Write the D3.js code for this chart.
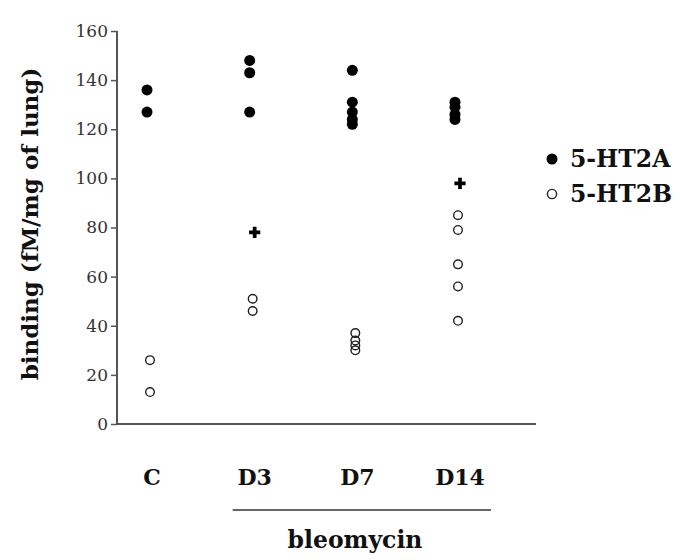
<!DOCTYPE html>
<html>
<head>
<meta charset="utf-8">
<script src="https://cdn.jsdelivr.net/npm/d3@7"></script>
<style>
  body { margin: 0; background: #fff; }
  text { font-family: "DejaVu Serif", "Liberation Serif", serif; }
</style>
</head>
<body>
<div id="chart"></div>
<script>
// Data
var groups = ["C", "D3", "D7", "D14"];
var ht2aVals = [
    [136, 127],
    [148, 143, 127],
    [144, 131, 127, 124, 122],
    [131, 129, 126, 124]
];
var ht2bVals = [
    [26, 13],
    [51, 46],
    [37, 34, 32, 30],
    [85, 79, 65, 56, 42]
];
var plusGroups = ["D3", "D14"];
var plusVals = [78, 98];
var yTicks = [0, 20, 40, 60, 80, 100, 120, 140, 160];

var svgWidth = 680;
var svgHeight = 560;

var svg = d3.select("#chart")
    .append("svg")
    .attr("width", svgWidth)
    .attr("height", svgHeight);

// Scales
var xScale = d3.scalePoint()
    .domain(groups)
    .range([152, 460]);

var yScale = d3.scaleLinear()
    .domain([0, 160])
    .range([424, 31]);

// Y axis
var leftAxis = d3.axisLeft(yScale)
    .tickValues(yTicks)
    .tickSize(6)
    .tickPadding(3);

var yAxisG = svg.append("g")
    .attr("transform", "translate(117, 0)")
    .call(leftAxis);

yAxisG.select(".domain").remove();
yAxisG.selectAll(".tick line").attr("stroke", "#555").attr("stroke-width", 1.5);
yAxisG.selectAll(".tick text")
    .attr("font-size", "17px")
    .attr("fill", "#333")
    .style("font-family", "'DejaVu Serif', serif");

// axis lines
svg.append("line")
    .attr("x1", 117).attr("x2", 117)
    .attr("y1", yScale(160)).attr("y2", yScale(0))
    .attr("stroke", "#555").attr("stroke-width", 2);

svg.append("line")
    .attr("x1", 116).attr("x2", 536)
    .attr("y1", yScale(0)).attr("y2", yScale(0))
    .attr("stroke", "#555").attr("stroke-width", 2);

// category labels
svg.selectAll(".cat")
    .data(groups)
    .enter()
    .append("text")
    .attr("class", "cat")
    .attr("x", d => xScale(d))
    .attr("y", 485)
    .attr("text-anchor", "middle")
    .attr("font-size", "22px")
    .attr("font-weight", "bold")
    .attr("fill", "#111")
    .text(d => d);

// bleomycin bracket
svg.append("line")
    .attr("x1", xScale("D3") - 22).attr("x2", xScale("D14") + 31)
    .attr("y1", 510).attr("y2", 510)
    .attr("stroke", "#333").attr("stroke-width", 1.5);

svg.append("text")
    .attr("x", 355)
    .attr("y", 548)
    .attr("text-anchor", "middle")
    .attr("font-size", "23.5px")
    .attr("font-weight", "bold")
    .attr("fill", "#111")
    .text("bleomycin");

// y axis title
svg.append("text")
    .attr("transform", "translate(38, 224) rotate(-90)")
    .attr("text-anchor", "middle")
    .attr("font-size", "23px")
    .attr("font-weight", "bold")
    .attr("fill", "#111")
    .text("binding (fM/mg of lung)");

// flatten points
var filledPts = [];
groups.forEach(function(g, i) {
    ht2aVals[i].forEach(function(v) { filledPts.push({ group: g, value: v }); });
});
var openPts = [];
groups.forEach(function(g, i) {
    ht2bVals[i].forEach(function(v) { openPts.push({ group: g, value: v }); });
});

// 5-HT2A filled dots
svg.selectAll(".filled")
    .data(filledPts)
    .enter()
    .append("circle")
    .attr("class", "filled")
    .attr("cx", d => xScale(d.group) - 5)
    .attr("cy", d => yScale(d.value))
    .attr("r", 5.5)
    .attr("fill", "#000");

// 5-HT2B open dots
svg.selectAll(".open")
    .data(openPts)
    .enter()
    .append("circle")
    .attr("class", "open")
    .attr("cx", d => xScale(d.group) - 2)
    .attr("cy", d => yScale(d.value))
    .attr("r", 4.3)
    .attr("fill", "none")
    .attr("stroke", "#222")
    .attr("stroke-width", 1.4);

// plus markers
var plusSymbol = d3.symbol().type(d3.symbolCross).size(70);
svg.selectAll(".plus")
    .data(plusGroups)
    .enter()
    .append("path")
    .attr("class", "plus")
    .attr("d", plusSymbol)
    .attr("transform", (d, i) => `translate(${xScale(d)}, ${yScale(plusVals[i])})`)
    .attr("fill", "#000");

// legend
var legend = svg.append("g").attr("transform", "translate(552, 159)");
legend.append("circle")
    .attr("cx", 0).attr("cy", 0).attr("r", 5.5)
    .attr("fill", "#000");
legend.append("text")
    .attr("x", 18).attr("y", 8)
    .attr("font-size", "23.5px")
    .attr("font-weight", "bold")
    .attr("fill", "#111")
    .text("5-HT2A");
legend.append("circle")
    .attr("cx", 0).attr("cy", 35).attr("r", 4.6)
    .attr("fill", "none")
    .attr("stroke", "#222")
    .attr("stroke-width", 1.4);
legend.append("text")
    .attr("x", 18).attr("y", 43)
    .attr("font-size", "23.5px")
    .attr("font-weight", "bold")
    .attr("fill", "#111")
    .text("5-HT2B");
</script>
</body>
</html>
